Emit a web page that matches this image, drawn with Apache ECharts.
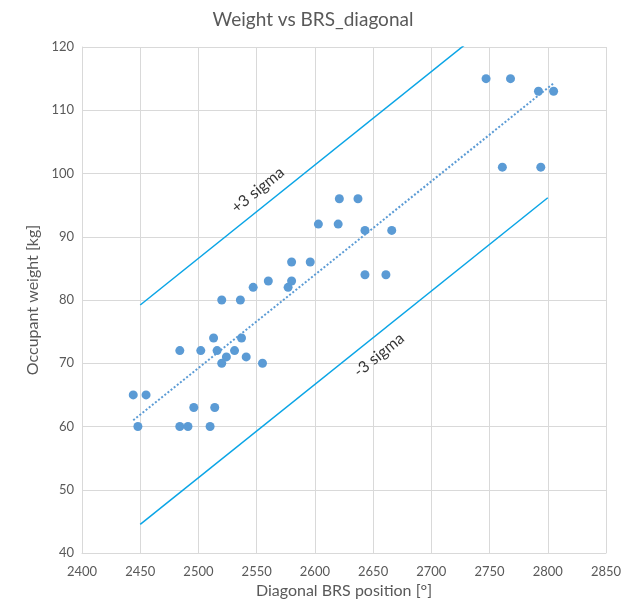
<!DOCTYPE html>
<html>
<head>
<meta charset="utf-8">
<script src="https://cdn.jsdelivr.net/npm/echarts@6/dist/echarts.min.js"></script>
<style>
html,body{margin:0;padding:0;background:#ffffff;}
#chart{width:626px;height:604px;}
</style>
</head>
<body>
<div id="chart"></div>
<script>
// Diagonal BRS position [°]
const brsPosition = [2444, 2455, 2448, 2484, 2491, 2510, 2496, 2514, 2484, 2502,
                     2516, 2531, 2513, 2537, 2524, 2541, 2520, 2555, 2520, 2536,
                     2547, 2560, 2577, 2580, 2580, 2596, 2603, 2620, 2621, 2637,
                     2643, 2666, 2643, 2661, 2747, 2768, 2792, 2805, 2761, 2794];
// Occupant weight [kg]
const occupantWeight = [65, 65, 60, 60, 60, 60, 63, 63, 72, 72,
                        72, 72, 74, 74, 71, 71, 70, 70, 80, 80,
                        82, 83, 82, 83, 86, 86, 92, 92, 96, 96,
                        91, 91, 84, 84, 115, 115, 113, 113, 101, 101];
// sigma band lines: x range and 3-sigma offset
const sigmaRangeX = [2450, 2800];
const threeSigma = 17.35;
// axis ranges
const xRange = [2400, 2850, 50];
const yRange = [40, 120, 10];
// annotation texts at data positions
const annotationText = ['+3 sigma', '-3 sigma'];
const annotationX = [2551, 2655];
const annotationY = [97.4, 71.3];

// linear trendline (least squares)
const n = brsPosition.length;
const mx = brsPosition.reduce((a, b) => a + b, 0) / n;
const my = occupantWeight.reduce((a, b) => a + b, 0) / n;
let sxy = 0, sxx = 0;
for (let i = 0; i < n; i++) {
  sxy += (brsPosition[i] - mx) * (occupantWeight[i] - my);
  sxx += (brsPosition[i] - mx) * (brsPosition[i] - mx);
}
const slope = sxy / sxx;
const intercept = my - slope * mx;
const fit = x => intercept + slope * x;
const xMin = Math.min(...brsPosition), xMax = Math.max(...brsPosition);

const points = brsPosition.map((x, i) => [x, occupantWeight[i]]);
const trend = [[xMin, fit(xMin)], [xMax, fit(xMax)]];
const upper = sigmaRangeX.map(x => [x, fit(x) + threeSigma]);
const lower = sigmaRangeX.map(x => [x, fit(x) - threeSigma]);
const annotations = annotationText.map((t, i) => ({ value: [annotationX[i], annotationY[i]], name: t }));

const FONT = 'Lato, "Open Sans", sans-serif';
const GRAY = '#595959';
const GRID = '#D9D9D9';
const SIGMA = '#0AA5E6';

const chart = echarts.init(document.getElementById('chart'), null, { renderer: 'canvas' });
chart.setOption({
  animation: false,
  backgroundColor: '#ffffff',
  title: {
    text: 'Weight vs BRS_diagonal',
    left: 'center',
    top: 5,
    textStyle: { fontFamily: FONT, fontSize: 19, fontWeight: 'normal', color: GRAY }
  },
  grid: { left: 82, right: 20, top: 47, bottom: 51 },
  xAxis: {
    type: 'value',
    min: xRange[0], max: xRange[1], interval: xRange[2],
    name: 'Diagonal BRS position [°]',
    nameLocation: 'middle',
    nameGap: 29,
    nameTextStyle: { fontFamily: FONT, fontSize: 16, color: GRAY },
    axisLine: { show: true, lineStyle: { color: GRID, width: 1 } },
    axisTick: { show: false },
    axisLabel: { fontFamily: FONT, fontSize: 13, color: GRAY, margin: 12, formatter: v => String(v) },
    splitLine: { show: true, lineStyle: { color: GRID, width: 1 } }
  },
  yAxis: {
    type: 'value',
    min: yRange[0], max: yRange[1], interval: yRange[2],
    name: 'Occupant weight [kg]',
    nameLocation: 'middle',
    nameGap: 37,
    nameTextStyle: { fontFamily: FONT, fontSize: 16, color: GRAY },
    axisLine: { show: true, lineStyle: { color: GRID, width: 1 } },
    axisTick: { show: false },
    axisLabel: { fontFamily: FONT, fontSize: 13, color: GRAY, margin: 8 },
    splitLine: { show: true, lineStyle: { color: GRID, width: 1 } }
  },
  series: [
    {
      type: 'line', data: upper, symbol: 'none', silent: true,
      lineStyle: { color: SIGMA, width: 1.5 }, clip: true, z: 2
    },
    {
      type: 'line', data: lower, symbol: 'none', silent: true,
      lineStyle: { color: SIGMA, width: 1.5 }, clip: true, z: 2
    },
    {
      type: 'line', data: trend, symbol: 'none', silent: true,
      lineStyle: { color: '#5B9BD5', width: 2, type: [2, 2] }, z: 3
    },
    {
      type: 'scatter', data: points, symbol: 'circle', symbolSize: 9,
      itemStyle: { color: '#5B9BD5', opacity: 1 }, z: 4
    },
    {
      type: 'scatter', data: annotations, symbolSize: 0, silent: true, z: 5,
      label: {
        show: true, position: 'inside', rotate: 39,
        formatter: p => p.name,
        fontFamily: FONT, fontSize: 16, color: '#000000'
      }
    }
  ]
});
</script>
</body>
</html>
